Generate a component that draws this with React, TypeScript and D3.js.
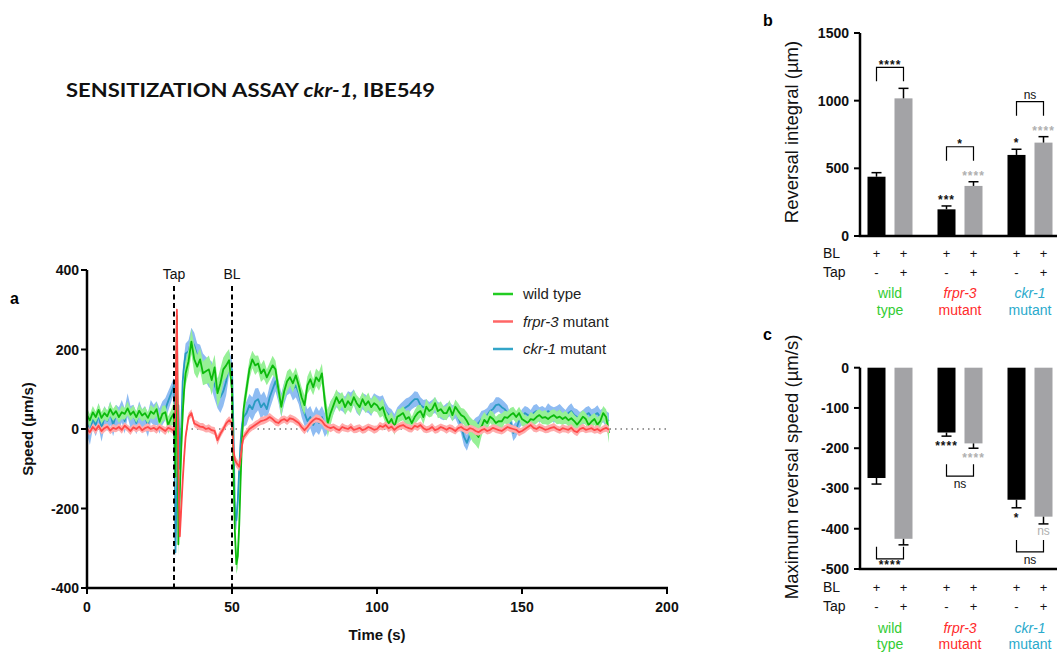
import React from 'react';
import * as d3 from 'd3';

// ---------- Panel a: time series ----------
const TIME: number[] = [
  ...d3.range(0, 30, 1),
  ...d3.range(30, 34.5, 0.5),
  ...d3.range(35, 50, 1),
  ...d3.range(50, 54.5, 0.5),
  ...d3.range(55, 181, 1),
];

const WT_MEAN = [
  35, 22, 42, 30, 48, 28, 40, 32, 50, 36, 45, 30, 42, 38, 52, 36, 44, 30, 46, 34, 40, 28, 44, 38, 50, 18, 38, 42, 10, 28,
  40, -120, 285, -290, -160, -50, 40, 100, 140,
  170, 220, 175, 157, 175, 140, 145, 150, 123, 155, 90, 115, 150, 160, 173,
  100, -100, -260, -340, -320, -240, -120, -20, 50,
  100, 150, 175, 160, 165, 140, 150, 130, 145, 160,
  150, 100, 56, 95, 120, 130, 115, 135, 110, 80,
  60, 110, 125, 105, 130, 120, 140, 70, 14, 40,
  60, 80, 65, 75, 55, 70, 60, 80, 65, 55,
  75, 60, 70, 55, 65, 60, 48, 55, 30, 14,
  25, 5, 31, 35, 40, 25, 30, 15, 30, 40,
  45, 30, 56, 45, 50, 65, 45, 50, 40, 40,
  55, 35, 56, 45, 35, 31, 20, 6, -5, -10,
  -20, 5, 23, 15, 31, 25, 15, 20, 19, 30,
  28, 35, 40, 30, 40, 25, 20, 15, 25, 23,
  30, 35, 28, 30, 25, 31, 35, 28, 31, 25,
  30, 22, 27, 20, 11, 20, 31, 25, 10, 19,
  25, 11, 20, 40, 30, -10,
];
const WT_SEM = [
  18, 15, 16, 14, 17, 15, 16, 14, 18, 15, 16, 14, 17, 15, 18, 15, 16, 14, 17, 15, 16, 14, 17, 15, 18, 16, 20, 18, 22, 20,
  30, 40, 20, 30, 40, 45, 40, 35, 30,
  30, 32, 35, 30, 28, 30, 32, 35, 38, 32, 35, 38, 30, 32, 28,
  30, 30, 25, 25, 30, 35, 35, 30, 25,
  25, 25, 22, 24, 20, 22, 24, 20, 22, 24,
  22, 24, 25, 22, 25, 22, 24, 20, 22, 25,
  25, 22, 24, 20, 22, 24, 25, 30, 35, 30,
  22, 20, 22, 18, 20, 22, 20, 18, 20, 22,
  18, 20, 22, 18, 20, 18, 20, 22, 18, 20,
  18, 20, 18, 16, 18, 20, 18, 16, 18, 20,
  16, 18, 20, 16, 18, 16, 18, 20, 16, 18,
  18, 16, 18, 20, 18, 20, 22, 25, 28, 30,
  30, 25, 20, 18, 16, 18, 16, 18, 20, 16,
  16, 18, 16, 15, 16, 18, 15, 16, 18, 15,
  16, 15, 16, 18, 15, 16, 15, 16, 18, 15,
  16, 15, 18, 16, 18, 20, 16, 15, 18, 16,
  15, 18, 16, 18, 20, 25,
];

const FRPR_MEAN = [
  0, -8, 5, -3, 8, -5, 2, 6, -4, 3, 0, 5, -2, 8, 2, -5, 4, 0, 6, -3, 2, 5, 0, 3, -2, 5, 0, -5, 3, 0,
  -5, 50, 300, -100, -270, -200, -130, -70, -20,
  30, 40, 14, 10, 6, 5, 0, 2, -3, -5, -28, -12, 0, 14, 22,
  15, -50, -78, -85, -90, -95, -70, -40, -20,
  -10, 0, 5, 10, 15, 20, 22, 25, 30, 25,
  18, 15, 22, 25, 20, 27, 25, 20, 15, 5,
  -3, 5, 15, 22, 27, 25, 20, 10, 5, 2,
  5, 0, -3, 5, 2, 0, 5, -2, 0, 3,
  -3, 0, 5, 2, -2, 0, 8, 5, 10, 2,
  6, -2, 4, 8, 10, 5, 2, 0, 8, 5,
  10, 2, -2, 0, 5, -3, 0, 5, 2, -2,
  3, 0, -5, 2, 5, 0, -3, 2, 0, -5,
  -8, -3, 0, -5, -2, 3, 0, -3, -5, 0,
  5, 2, 0, -2, -8, -5, 0, 5, 10, 3,
  0, 5, 2, -2, 0, 3, 5, 0, -3, 2,
  0, -2, 3, -5, -8, 0, 3, -2, 0, 2,
  -3, 0, -5, 0, 3, -2,
];
const FRPR_SEM = [
  10, 8, 9, 10, 8, 9, 10, 8, 9, 10, 8, 9, 10, 8, 9, 10, 8, 9, 10, 8, 9, 10, 8, 9, 10, 8, 9, 10, 8, 9,
  10, 20, 20, 20, 20, 20, 15, 12, 10,
  10, 10, 9, 10, 9, 10, 9, 10, 9, 10, 12, 10, 9, 10, 10,
  10, 12, 12, 12, 12, 12, 12, 10, 10,
  10, 10, 9, 10, 9, 10, 10, 9, 10, 9,
  10, 9, 10, 9, 10, 10, 9, 10, 9, 10,
  10, 9, 10, 9, 10, 10, 9, 10, 9, 10,
  9, 10, 9, 10, 9, 9, 10, 9, 10, 9,
  9, 10, 9, 9, 10, 9, 10, 9, 9, 10,
  9, 10, 9, 9, 10, 9, 10, 9, 9, 10,
  9, 10, 9, 9, 10, 9, 10, 9, 9, 10,
  9, 10, 9, 9, 10, 9, 10, 9, 9, 10,
  9, 10, 9, 9, 10, 9, 10, 9, 9, 10,
  9, 10, 9, 9, 10, 9, 10, 9, 9, 10,
  9, 10, 9, 9, 10, 9, 10, 9, 9, 10,
  9, 10, 9, 9, 10, 9, 10, 9, 9, 10,
  9, 10, 9, 9, 10, 9,
];

const CKR_MEAN = [
  15, -10, 25, 10, 35, 0, 30, 20, 40, 10, 35, 25, 45, 20, 60, 30, 35, 15, 40, 25, 30, 10, 45, 35, 40, 20, 40, 50, 70, 90,
  110, -310, -150, 60, -100, 0, 120, 160, 190,
  195, 225, 210, 185, 180, 160, 150, 140, 135, 110, 90, 80, 95, 120, 165,
  150, 0, -210, -230, -180, -100, -30, 10, 30,
  40, 60, 50, 70, 75, 55, 65, 50, 80, 100,
  120, 95, 60, 90, 110, 115, 100, 110, 90, 60,
  40, 20, 30, 10, 25, 15, 30, 10, 20, 45,
  60, 75, 70, 65, 60, 75, 70, 80, 60, 55,
  70, 65, 60, 55, 70, 65, 60, 65, 45, 35,
  30, 20, 35, 45, 50, 55, 60, 68, 75, 75,
  60, 55, 55, 50, 55, 60, 50, 45, 40, 45,
  50, 40, 45, 30, 10, -20, -35, -15, 0, 10,
  15, 25, 30, 35, 45, 50, 60, 62, 55, 50,
  40, 20, -10, 0, 20, 30, 40, 35, 30, 40,
  45, 35, 40, 35, 45, 40, 35, 40, 45, 35,
  30, 40, 45, 35, 30, 25, 30, 35, 40, 30,
  35, 40, 30, 35, 25, 20,
];
const CKR_SEM = [
  28, 30, 25, 28, 30, 32, 28, 25, 30, 28, 26, 30, 28, 32, 30, 28, 26, 28, 30, 25, 28, 30, 28, 26, 30, 32, 30, 28, 25, 22,
  20, 20, 30, 40, 40, 30, 30, 25, 25,
  28, 30, 32, 30, 32, 30, 32, 35, 35, 35, 38, 40, 38, 35, 30,
  25, 30, 30, 25, 30, 30, 30, 28, 25,
  30, 28, 30, 32, 28, 30, 30, 28, 30, 28,
  25, 28, 30, 28, 25, 25, 28, 30, 28, 30,
  32, 30, 28, 30, 32, 30, 28, 30, 28, 25,
  22, 20, 22, 20, 22, 20, 22, 20, 20, 22,
  20, 22, 20, 22, 20, 20, 22, 20, 22, 20,
  20, 18, 20, 18, 20, 22, 20, 18, 20, 18,
  20, 18, 20, 18, 18, 20, 18, 20, 18, 20,
  18, 20, 18, 20, 22, 22, 20, 18, 20, 18,
  18, 20, 18, 18, 20, 18, 20, 18, 20, 18,
  20, 18, 20, 20, 18, 20, 18, 20, 18, 20,
  18, 20, 18, 18, 20, 18, 20, 18, 18, 20,
  18, 18, 20, 18, 20, 18, 18, 20, 18, 20,
  18, 20, 18, 18, 20, 20,
];

const X_TICKS = [0, 50, 100, 150, 200];
const Y_TICKS = [-400, -200, 0, 200, 400];
const EVENTS = [{ t: 30, label: 'Tap' }, { t: 50, label: 'BL' }];

// ---------- Panels b and c: bars ----------
const GROUPS = ['wt', 'frpr', 'ckr'];
const CONDS = ['BL', 'BL+Tap'];
const B_MEAN = [[438, 1017], [197, 370], [599, 690]];
const B_SEM = [[30, 74], [25, 31], [42, 44]];
const B_BAR_SIG = [['', ''], ['***', '****'], ['*', '****']];
const B_PAIR_SIG = ['****', '*', 'ns'];
const B_TICKS = [0, 500, 1000, 1500];

const C_MEAN = [[-274, -425], [-161, -188], [-328, -370]];
const C_SEM = [[15, 15], [9, 12], [20, 18]];
const C_BAR_SIG = [['', ''], ['****', '****'], ['*', 'ns']];
const C_PAIR_SIG = ['****', 'ns', 'ns'];
const C_TICKS = [0, -100, -200, -300, -400, -500];

const BL_ROW = ['+', '+'];
const TAP_ROW = ['-', '+'];
const GROUP_LABELS = [
  { l1: 'wild', l2: 'type', italic: false, color: '#33cc33' },
  { l1: 'frpr-3', l2: 'mutant', italic: true, color: '#ff2b2b' },
  { l1: 'ckr-1', l2: 'mutant', italic: true, color: '#2aaacc' },
];

const AX = '"Liberation Sans", Arial, sans-serif';
const BAR_COLORS = ['#000000', '#a3a3a6'];
const SIG_COLORS = ['#111111', '#b0b0b0'];

function toPts(mean: number[], sem: number[]) {
  const n = Math.min(TIME.length, mean.length, sem.length);
  const out: { t: number; m: number; s: number }[] = [];
  for (let i = 0; i < n; i++) out.push({ t: TIME[i], m: mean[i], s: sem[i] });
  return out;
}

function Stars({ x, y, text, color, fs = 12 }: any) {
  if (!text) return null;
  const isStar = text.startsWith('*');
  return (
    <text
      x={x}
      y={isStar ? y + fs * 0.6 : y + fs * 0.3}
      textAnchor="middle"
      fontFamily={AX}
      fontSize={isStar ? fs : 12}
      fontWeight={isStar ? 'bold' : 'normal'}
      letterSpacing={isStar ? 1 : 0}
      fill={color}
    >
      {text}
    </text>
  );
}

function BarPanel({ kind }: { kind: 'b' | 'c' }) {
  const isB = kind === 'b';
  const y = isB
    ? d3.scaleLinear().domain([0, 1500]).range([236, 33])
    : d3.scaleLinear().domain([-500, 0]).range([569, 367.7]);
  const xg = d3.scaleBand().domain(GROUPS).range([855, 1065]).padding(0);
  const xs = d3.scaleBand().domain(CONDS).range([0, xg.bandwidth()]).paddingInner(0.333).paddingOuter(0.463);
  const bw = xs.bandwidth();
  const means = isB ? B_MEAN : C_MEAN;
  const sems = isB ? B_SEM : C_SEM;
  const barSig = isB ? B_BAR_SIG : C_BAR_SIG;
  const pairSig = isB ? B_PAIR_SIG : C_PAIR_SIG;
  const ticks = isB ? B_TICKS : C_TICKS;
  const axisY = isB ? y(0) : y(-500);
  const rowBL = isB ? 253 : 587;
  const rowTap = isB ? 272 : 606;
  const lab1 = isB ? 293 : 628;
  const lab2 = isB ? 310 : 644;
  const cx = (g: string, c: string) => (xg(g) as number) + (xs(c) as number) + bw / 2;
  return (
    <g>
      <text x={763} y={isB ? 26 : 340} fontFamily={AX} fontWeight="bold" fontSize={16}>{kind}</text>
      <text
        transform={`translate(798,${isB ? 132 : 467}) rotate(-90)`}
        textAnchor="middle"
        fontFamily={AX}
        fontSize={18.5}
        fill="#111"
      >
        {isB ? 'Reversal integral (µm)' : 'Maximum reversal speed (µm/s)'}
      </text>
      {GROUPS.map((g, gi) =>
        CONDS.map((c, ci) => {
          const m = means[gi][ci];
          const s = sems[gi][ci];
          const x0 = (xg(g) as number) + (xs(c) as number);
          const xc = x0 + bw / 2;
          const yTop = Math.min(y(0), y(m));
          const h = Math.abs(y(m) - y(0));
          const yErr = y(isB ? m + s : m - s);
          return (
            <g key={g + c}>
              <rect x={x0} y={yTop} width={bw} height={h} fill={BAR_COLORS[ci]} />
              <line x1={xc} x2={xc} y1={y(m)} y2={yErr} stroke="#000" strokeWidth={1.5} />
              <line x1={xc - 5} x2={xc + 5} y1={yErr} y2={yErr} stroke="#000" strokeWidth={1.5} />
              <Stars x={xc} y={isB ? yErr - 9 : yErr + 7} text={barSig[gi][ci]} color={SIG_COLORS[ci]} />
            </g>
          );
        })
      )}
      {GROUPS.map((g, gi) => {
        const xa = cx(g, CONDS[0]);
        const xb = cx(g, CONDS[1]);
        if (isB) {
          let top = Infinity;
          CONDS.forEach((c, ci) => {
            const e = y(means[gi][ci] + sems[gi][ci]);
            top = Math.min(top, barSig[gi][ci] ? e - 14 : e);
          });
          const hy = top - 21;
          return (
            <g key={'br' + g}>
              <path d={`M${xa},${hy + 14}V${hy}H${xb}V${hy + 14}`} fill="none" stroke="#000" strokeWidth={1.2} />
              <Stars x={(xa + xb) / 2} y={hy - 6} text={pairSig[gi]} color="#111" />
            </g>
          );
        }
        let bot = -Infinity;
        CONDS.forEach((c, ci) => {
          const e = y(means[gi][ci] - sems[gi][ci]);
          bot = Math.max(bot, barSig[gi][ci] ? e + 14 : e);
        });
        const legTop = bot + 2;
        const hy = legTop + 12;
        const lab = pairSig[gi];
        return (
          <g key={'br' + g}>
            <path d={`M${xa},${legTop}V${hy}H${xb}V${legTop}`} fill="none" stroke="#000" strokeWidth={1.2} />
            <Stars x={(xa + xb) / 2} y={lab.startsWith('*') ? hy + 3 : hy + 8} text={lab} color="#111" />
          </g>
        );
      })}
      <line x1={860} x2={860} y1={y.range()[1]} y2={y.range()[0]} stroke="#000" strokeWidth={2.5} />
      <line x1={858.75} x2={1057} y1={axisY} y2={axisY} stroke="#000" strokeWidth={2.5} />
      {ticks.map((t) => (
        <g key={t}>
          <line x1={854} x2={860} y1={y(t)} y2={y(t)} stroke="#000" strokeWidth={2} />
          <text x={849} y={y(t) + 5} textAnchor="end" fontFamily={AX} fontWeight="bold" fontSize={14} fill="#111">{t}</text>
        </g>
      ))}
      <text x={823} y={rowBL + 5} fontFamily={AX} fontSize={14} fill="#111">BL</text>
      <text x={823} y={rowTap + 5} fontFamily={AX} fontSize={14} fill="#111">Tap</text>
      {GROUPS.map((g, gi) => (
        <g key={'rows' + g}>
          {CONDS.map((c, ci) => (
            <g key={c}>
              <text x={cx(g, c)} y={rowBL + 5} textAnchor="middle" fontFamily={AX} fontSize={13} fill="#111">{BL_ROW[ci]}</text>
              <text x={cx(g, c)} y={rowTap + 5} textAnchor="middle" fontFamily={AX} fontSize={13} fill="#111">{TAP_ROW[ci]}</text>
            </g>
          ))}
          <text x={(xg(g) as number) + xg.bandwidth() / 2} y={lab1 + 5} textAnchor="middle" fontFamily={AX} fontSize={14}
            fontStyle={GROUP_LABELS[gi].italic ? 'italic' : 'normal'} fill={GROUP_LABELS[gi].color}>{GROUP_LABELS[gi].l1}</text>
          <text x={(xg(g) as number) + xg.bandwidth() / 2} y={lab2 + 5} textAnchor="middle" fontFamily={AX} fontSize={14}
            fill={GROUP_LABELS[gi].color}>{GROUP_LABELS[gi].l2}</text>
        </g>
      ))}
    </g>
  );
}

export default function App() {
  const x = d3.scaleLinear().domain([0, 200]).range([87, 667]);
  const y = d3.scaleLinear().domain([-400, 400]).range([588, 270]);
  const line = d3.line<any>().x((d) => x(d.t)).y((d) => y(d.m));
  const area = d3.area<any>().x((d) => x(d.t)).y0((d) => y(d.m - d.s)).y1((d) => y(d.m + d.s));
  const series = [
    { key: 'ckr', pts: toPts(CKR_MEAN, CKR_SEM), line: '#2a9ac2', band: '#8fbcf2' },
    { key: 'wt', pts: toPts(WT_MEAN, WT_SEM), line: '#0cba0c', band: '#96f096' },
    { key: 'frpr', pts: toPts(FRPR_MEAN, FRPR_SEM), line: '#ff4848', band: '#ffacac' },
  ];
  const legend = [
    { color: '#22cc22', parts: [['wild type', false]] },
    { color: '#ff6666', parts: [['frpr-3', true], [' mutant', false]] },
    { color: '#33a5c8', parts: [['ckr-1', true], [' mutant', false]] },
  ];
  return (
    <svg width={1057} height={652} style={{ position: 'absolute', left: 0, top: 0, background: '#fff' }}>
      <rect width={1057} height={652} fill="#fff" />
      <text x={66} y={97} fontFamily="Lato, 'Open Sans', sans-serif" fontWeight="bold" fontSize={18} fill="#111"
        textLength={369} lengthAdjust="spacingAndGlyphs">
        SENSITIZATION ASSAY <tspan fontStyle="italic">ckr-1,</tspan> IBE549
      </text>
      <text x={10} y={304} fontFamily={AX} fontWeight="bold" fontSize={16}>a</text>

      {/* zero dotted line */}
      <line x1={x(0)} x2={x(200)} y1={y(0)} y2={y(0)} stroke="#333" strokeWidth={1.2} strokeDasharray="1.5,4" />

      {series.map((s) => (
        <g key={s.key}>
          <path d={area(s.pts) as string} fill={s.band} stroke="none" />
          <path d={line(s.pts) as string} fill="none" stroke={s.line} strokeWidth={1.8} strokeLinejoin="round" />
        </g>
      ))}

      {EVENTS.map((e) => (
        <g key={e.label}>
          <line x1={x(e.t)} x2={x(e.t)} y1={286} y2={588} stroke="#000" strokeWidth={2} strokeDasharray="5,3.5" />
          <text x={x(e.t)} y={279} textAnchor="middle" fontFamily={AX} fontSize={14} fill="#111">{e.label}</text>
        </g>
      ))}

      {/* axes */}
      <line x1={x(0)} x2={x(0)} y1={y(400)} y2={y(-400)} stroke="#000" strokeWidth={2.5} />
      <line x1={x(0) - 1.25} x2={x(200) + 1} y1={y(-400)} y2={y(-400)} stroke="#000" strokeWidth={2.5} />
      {Y_TICKS.map((t) => (
        <g key={'y' + t}>
          <line x1={x(0) - 6} x2={x(0)} y1={y(t)} y2={y(t)} stroke="#000" strokeWidth={2} />
          <text x={x(0) - 8} y={y(t) + 5} textAnchor="end" fontFamily={AX} fontWeight="bold" fontSize={14} fill="#111">{t}</text>
        </g>
      ))}
      {X_TICKS.map((t) => (
        <g key={'x' + t}>
          <line x1={x(t)} x2={x(t)} y1={y(-400)} y2={y(-400) + 6} stroke="#000" strokeWidth={2} />
          <text x={x(t)} y={y(-400) + 24} textAnchor="middle" fontFamily={AX} fontWeight="bold" fontSize={14} fill="#111">{t}</text>
        </g>
      ))}
      <text x={377} y={640} textAnchor="middle" fontFamily={AX} fontWeight="bold" fontSize={15} fill="#111">Time (s)</text>
      <text transform={`translate(33,${y(0)}) rotate(-90)`} textAnchor="middle" fontFamily={AX} fontWeight="bold" fontSize={15} fill="#111">
        Speed (µm/s)
      </text>

      {legend.map((l, i) => (
        <g key={i}>
          <line x1={493} x2={513} y1={294 + i * 27.5} y2={294 + i * 27.5} stroke={l.color} strokeWidth={2.5} />
          <text x={523} y={294 + i * 27.5 + 5} fontFamily={AX} fontSize={15} fill="#222">
            {l.parts.map((p: any, j: number) => (
              <tspan key={j} fontStyle={p[1] ? 'italic' : 'normal'}>{p[0]}</tspan>
            ))}
          </text>
        </g>
      ))}

      <BarPanel kind="b" />
      <BarPanel kind="c" />
    </svg>
  );
}
